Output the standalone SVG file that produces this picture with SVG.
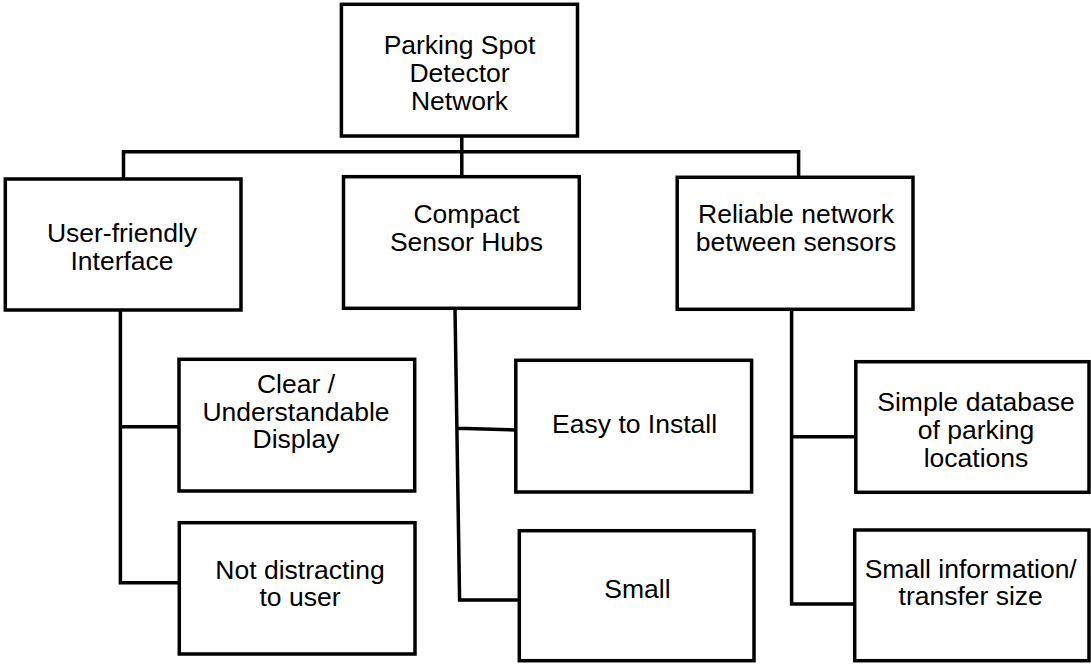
<svg xmlns="http://www.w3.org/2000/svg" width="1091" height="664" viewBox="0 0 1091 664">
<style>
.box{fill:#fff;stroke:#000;stroke-width:3.5}
.lbl{font-family:"Liberation Sans",Arial,sans-serif;font-size:26.5px;fill:#000;text-anchor:middle}
.con{fill:none;stroke:#000;stroke-width:3.5;stroke-linejoin:miter}
</style>
<rect width="1091" height="664" fill="#fff"/>
<g id="connectors">
<path class="con" d="M461.8,136 V152 M123.5,179 V151.7 H798.6 V177.3 M461.8,152 V176.7"/>
<path class="con" d="M120.4,310 V582.7 H179.3 M120.4,426.7 H179"/>
<path class="con" d="M455,308.3 L459.6,600 H519.3 M457,428.3 L515.8,430"/>
<path class="con" d="M791.6,309.3 V604 H856.8 M791.6,436.7 H855.8"/>
</g>
<g id="n-root">
<rect class="box" x="341.4" y="4.3" width="236.1" height="131.7"/>
<text class="lbl" x="459.5" y="54.3">Parking Spot</text>
<text class="lbl" x="459.5" y="82.3">Detector</text>
<text class="lbl" x="459.5" y="110">Network</text>
</g>
<g id="n-ui">
<rect class="box" x="5.3" y="179" width="235.7" height="131"/>
<text class="lbl" x="122" y="241.7">User-friendly</text>
<text class="lbl" x="122" y="270">Interface</text>
</g>
<g id="n-hubs">
<rect class="box" x="343.5" y="176.7" width="235.8" height="131.6"/>
<text class="lbl" x="466.5" y="222.7">Compact</text>
<text class="lbl" x="466.5" y="250.7">Sensor Hubs</text>
</g>
<g id="n-net">
<rect class="box" x="677.2" y="177.3" width="235.8" height="132"/>
<text class="lbl" x="796" y="222.7">Reliable network</text>
<text class="lbl" x="796" y="250.7">between sensors</text>
</g>
<g id="n-clear">
<rect class="box" x="179" y="359.3" width="235.7" height="131.7"/>
<text class="lbl" x="296" y="392.7">Clear /</text>
<text class="lbl" x="296" y="420.7">Understandable</text>
<text class="lbl" x="296" y="448.3">Display</text>
</g>
<g id="n-notdistract">
<rect class="box" x="179.3" y="522.7" width="235.7" height="131.3"/>
<text class="lbl" x="300" y="579.3">Not distracting</text>
<text class="lbl" x="300" y="606">to user</text>
</g>
<g id="n-install">
<rect class="box" x="515.8" y="360.3" width="235.8" height="131.7"/>
<text class="lbl" x="634.6" y="432.7">Easy to Install</text>
</g>
<g id="n-small">
<rect class="box" x="519.3" y="530.7" width="234.7" height="130"/>
<text class="lbl" x="637.4" y="597.7">Small</text>
</g>
<g id="n-db">
<rect class="box" x="855.8" y="361.7" width="233.2" height="130.6"/>
<text class="lbl" x="976" y="411">Simple database</text>
<text class="lbl" x="976" y="438.7">of parking</text>
<text class="lbl" x="976" y="466.7">locations</text>
</g>
<g id="n-size">
<rect class="box" x="854.7" y="530" width="234.3" height="130.7"/>
<text class="lbl" x="970.7" y="577.7">Small information/</text>
<text class="lbl" x="970.7" y="605">transfer size</text>
</g>
</svg>
